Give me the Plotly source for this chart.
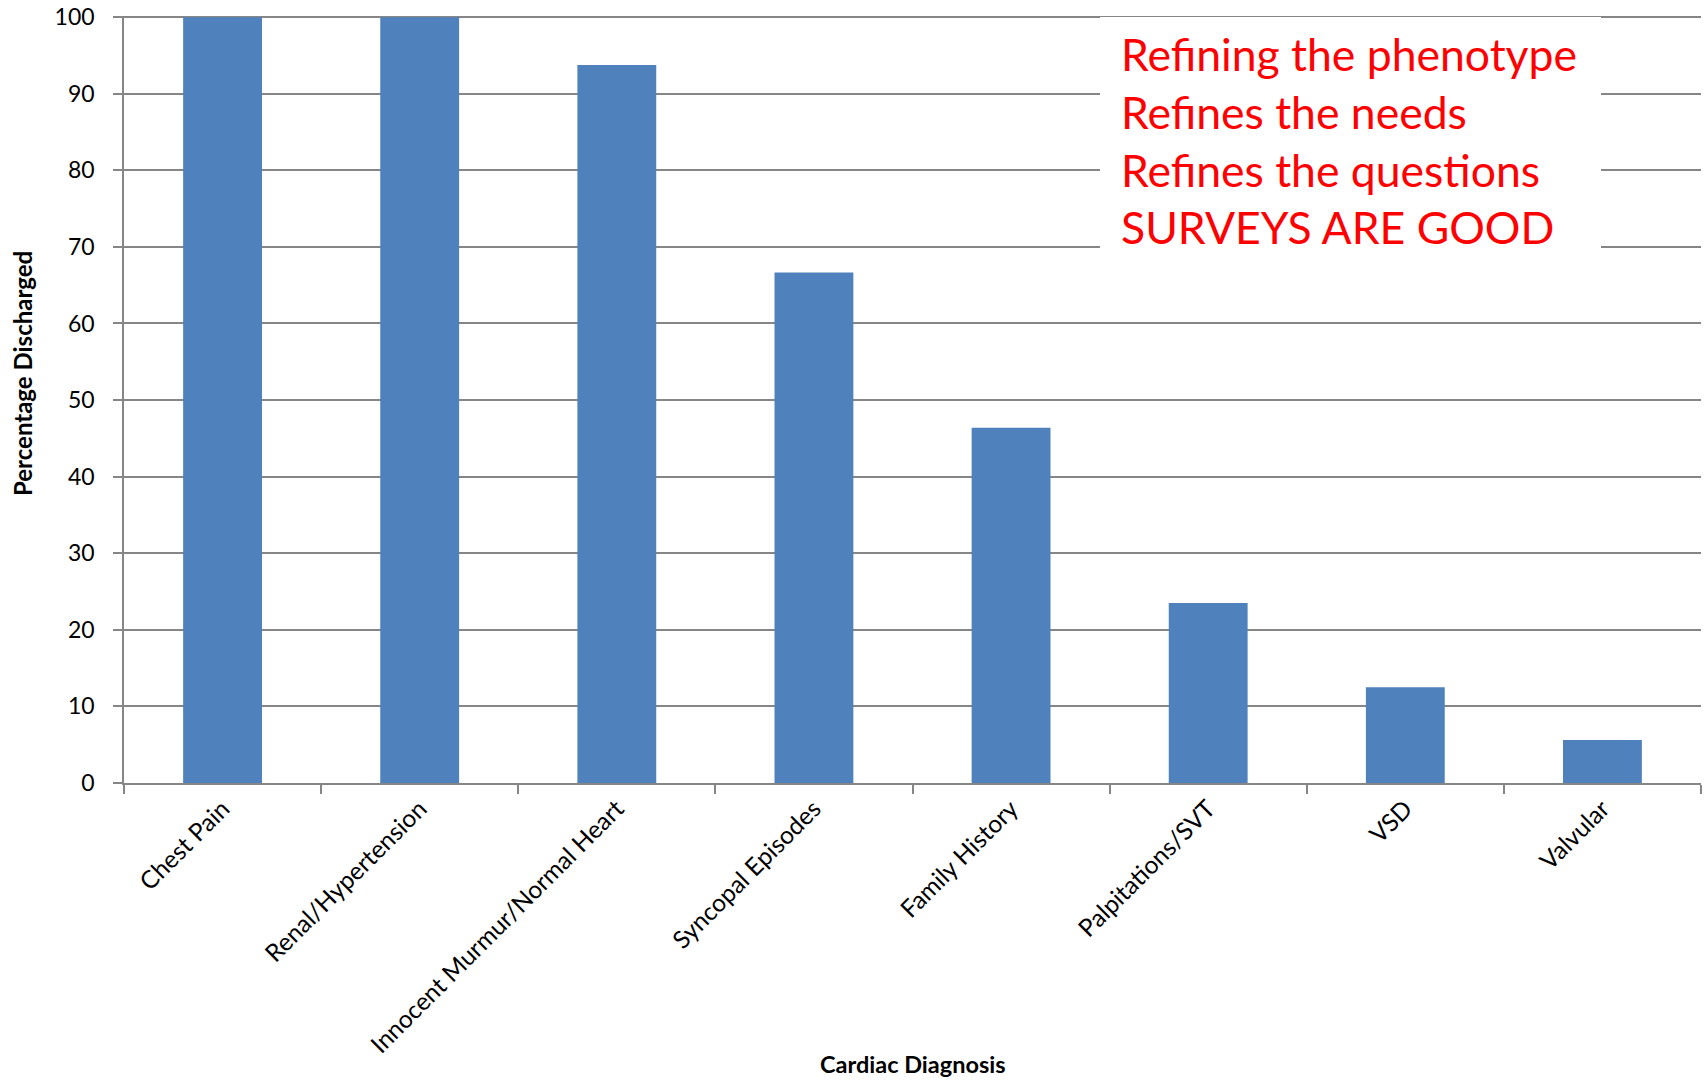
import plotly.graph_objects as go

categories = ["Chest Pain", "Renal/Hypertension", "Innocent Murmur/Normal Heart",
              "Syncopal Episodes", "Family History", "Palpitations/SVT", "VSD", "Valvular"]
values = [100, 100, 93.75, 66.67, 46.4, 23.5, 12.5, 5.6]
y_ticks = list(range(0, 101, 10))
note_lines = ["Refining the phenotype", "Refines the needs", "Refines the questions", "SURVEYS ARE GOOD"]
x_title = "Cardiac Diagnosis"
y_title = "Percentage Discharged"

FONT = "Lato, 'Open Sans', sans-serif"
GRID = "#868686"

fig = go.Figure()
fig.add_trace(go.Bar(x=categories, y=values, marker=dict(color="#4F81BD", line=dict(width=0)),
                     width=0.4))

W, H = 1708, 1082
L, R, T, B = 124, 7, 16, 299
ph = H - T - B
pw = W - L - R

fig.update_layout(
    width=W, height=H,
    margin=dict(l=L, r=R, t=T, b=B, autoexpand=False),
    paper_bgcolor="white", plot_bgcolor="white",
    showlegend=False,
    font=dict(family=FONT, color="black", size=21),
    xaxis=dict(
        type="category", showgrid=False, showline=True, linecolor=GRID, linewidth=1.5,
        ticks="outside", tickson="boundaries", ticklen=9, tickcolor=GRID, tickwidth=1.5,
        tickangle=-45, tickfont=dict(size=24.5), automargin=False,
    ),
    yaxis=dict(
        range=[0, 100.15], tickvals=y_ticks, showgrid=True, gridcolor=GRID, gridwidth=1.5,
        showline=True, linecolor=GRID, linewidth=1.5, zeroline=False,
        ticks="outside", ticklen=9, tickcolor=GRID, tickwidth=1.5,
        tickfont=dict(size=23), ticklabelstandoff=14, automargin=False,
    ),
)

# white box behind the note
fig.add_shape(type="rect", xref="paper", yref="paper",
              x0=(1100 - L) / pw, x1=(1601 - L) / pw,
              y0=(H - B - 256) / ph, y1=(H - B - 17) / ph,
              fillcolor="white", line=dict(width=0), layer="above")

line_centers = [53, 111, 169, 226]
for txt, yc in zip(note_lines, line_centers):
    fig.add_annotation(text=txt, xref="paper", yref="paper",
                       x=(1119 - L) / pw, y=(H - B - yc) / ph,
                       xanchor="left", yanchor="middle", showarrow=False,
                       font=dict(size=44.5, color="#FF0000", family=FONT))

fig.add_annotation(text="<b>" + x_title + "</b>", xref="paper", yref="paper",
                   x=0.5, y=-(1064 - (H - B)) / ph, xanchor="center", yanchor="middle",
                   showarrow=False, font=dict(size=23.5, family=FONT))
fig.add_annotation(text="<b>" + y_title + "</b>", xref="paper", yref="paper",
                   x=(22 - L) / pw, y=(H - B - 374) / ph, xanchor="center", yanchor="middle",
                   textangle=-90, showarrow=False, font=dict(size=24, family=FONT))

fig.write_html("out.html")
